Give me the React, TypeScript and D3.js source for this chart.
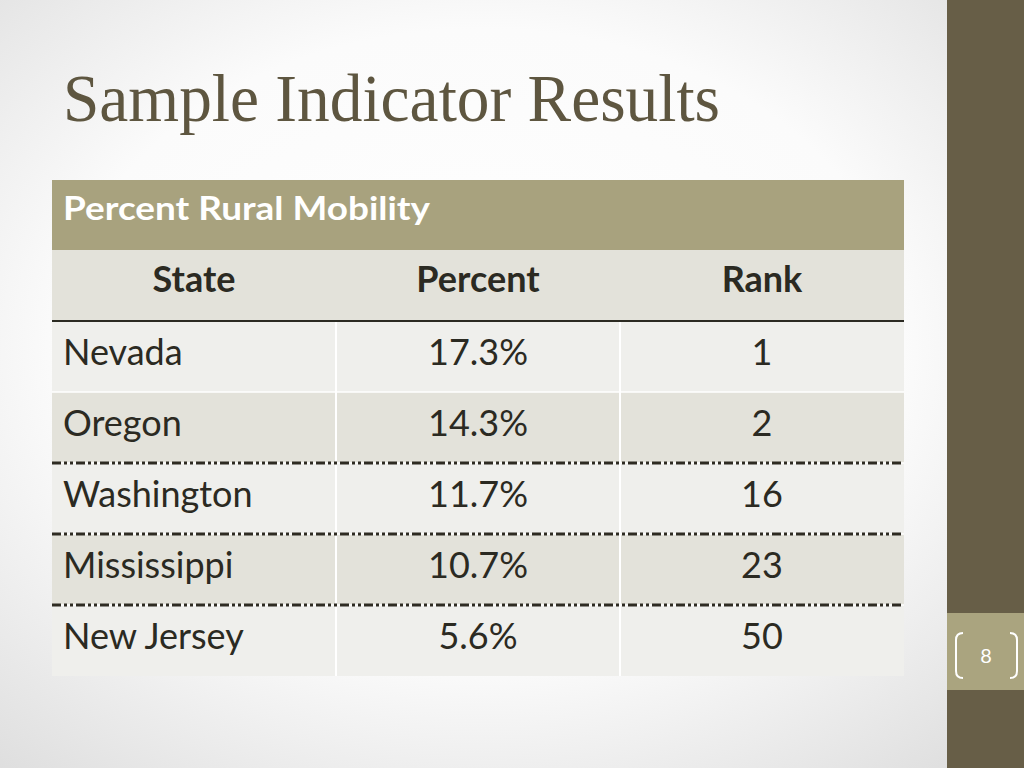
import React from "react";
import * as d3 from "d3";

const title = "Sample Indicator Results";
const tableTitle = "Percent Rural Mobility";
const columns = ["State", "Percent", "Rank"];
const states = ["Nevada", "Oregon", "Washington", "Mississippi", "New Jersey"];
const percents = ["17.3%", "14.3%", "11.7%", "10.7%", "5.6%"];
const ranks = ["1", "2", "16", "23", "50"];
const pageNumber = "8";

const W = 1024;
const H = 768;
const tableX0 = 52;
const tableX1 = 904;
const bodyTop = 321;
const bodyBottom = 676;

export default function App() {
  const col = d3.scaleBand<number>().domain([0, 1, 2]).range([tableX0, tableX1]).padding(0);
  const row = d3.scaleBand<number>().domain(d3.range(states.length)).range([bodyTop, bodyBottom]).padding(0);
  const cw = col.bandwidth();
  const rh = row.bandwidth();
  const fontBody = "Lato, 'Open Sans', sans-serif";
  const dashedRows = [2, 3, 4];

  return (
    <svg width={W} height={H} style={{ position: "absolute", left: 0, top: 0, display: "block" }}>
      <defs>
        <radialGradient id="bg" cx="0.47" cy="0.45" r="0.75">
          <stop offset="0" stopColor="#ffffff" />
          <stop offset="0.55" stopColor="#fbfbfb" />
          <stop offset="1" stopColor="#dcdcdc" />
        </radialGradient>
      </defs>
      <rect x={0} y={0} width={W} height={H} fill="url(#bg)" />
      {/* right bar */}
      <rect x={947} y={0} width={W - 947} height={H} fill="#675e47" />
      <rect x={947} y={613} width={W - 947} height={77} fill="#aaa47f" />
      <path d="M963,633 Q956,633 956,640 L956,671 Q956,678 963,678" fill="none" stroke="#ffffff" strokeWidth={2} />
      <path d="M1010,633 Q1017,633 1017,640 L1017,671 Q1017,678 1010,678" fill="none" stroke="#ffffff" strokeWidth={2} />
      <text x={986} y={663} textAnchor="middle" fontFamily={fontBody} fontSize={20} fill="#ffffff">{pageNumber}</text>

      {/* title */}
      <text x={63} y={121} fontFamily="'Liberation Serif', 'DejaVu Serif', serif" fontSize={68} fill="#5e5640" textLength={657} lengthAdjust="spacingAndGlyphs">{title}</text>

      {/* table header */}
      <rect x={tableX0} y={180} width={tableX1 - tableX0} height={70} fill="#a8a27e" />
      <text x={63} y={220} fontFamily={fontBody} fontWeight={700} fontSize={33} fill="#ffffff" textLength={367} lengthAdjust="spacingAndGlyphs">{tableTitle}</text>
      <rect x={tableX0} y={250} width={tableX1 - tableX0} height={71} fill="#e3e2da" />
      {columns.map((c, i) => (
        <text key={c} x={(col(i) as number) + cw / 2} y={292} textAnchor="middle" fontFamily={fontBody} fontWeight={700} fontSize={36} fill="#2b2a22">{c}</text>
      ))}

      {/* body rows */}
      {states.map((s, i) => {
        const y = row(i) as number;
        return (
          <g key={s}>
            <rect x={tableX0} y={y} width={tableX1 - tableX0} height={rh} fill={i % 2 === 0 ? "#efefec" : "#e3e2da"} />
          </g>
        );
      })}
      {states.map((s, i) => {
        const y = row(i) as number;
        return <line key={"h" + i} x1={tableX0} x2={tableX1} y1={y} y2={y} stroke="#ffffff" strokeWidth={1.5} />;
      })}
      {[1, 2].map((i) => (
        <line key={"v" + i} x1={col(i) as number} x2={col(i) as number} y1={bodyTop} y2={bodyBottom} stroke="#ffffff" strokeWidth={2} />
      ))}
      <line x1={tableX0} x2={tableX1} y1={bodyTop} y2={bodyTop} stroke="#2b2a22" strokeWidth={2} />
      {dashedRows.map((i) => {
        const y = row(i) as number;
        return <line key={"d" + i} x1={tableX0} x2={tableX1} y1={y} y2={y} stroke="#2e2b22" strokeWidth={3} strokeDasharray="9,3,3,3,3,3" />;
      })}
      {states.map((s, i) => {
        const yb = (row(i) as number) + rh / 2 + 8;
        return (
          <g key={"t" + s} fontFamily={fontBody} fontSize={36} fill="#2b2a22">
            <text x={63} y={yb}>{s}</text>
            <text x={(col(1) as number) + cw / 2} y={yb} textAnchor="middle">{percents[i]}</text>
            <text x={(col(2) as number) + cw / 2} y={yb} textAnchor="middle">{ranks[i]}</text>
          </g>
        );
      })}
    </svg>
  );
}
